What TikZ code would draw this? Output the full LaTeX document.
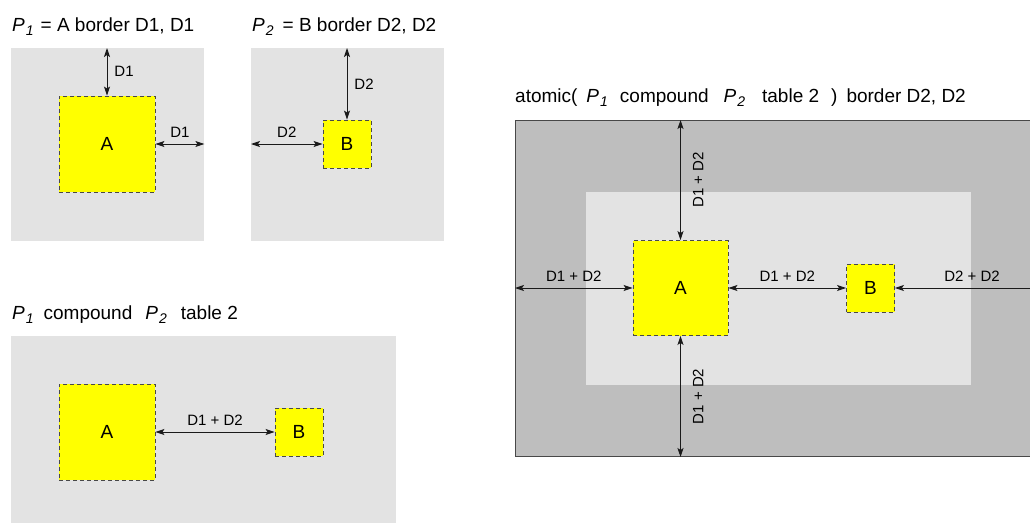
\documentclass[tikz,border=0pt]{standalone}
\usepackage{fontspec}
\setmainfont{Liberation Sans}
\usetikzlibrary{arrows.meta,positioning}
\definecolor{panelgray}{HTML}{E3E3E3}
\definecolor{outergray}{HTML}{BEBEBE}
\definecolor{boxyellow}{HTML}{FFFF00}
\definecolor{ink}{HTML}{1A1A1A}
\tikzset{
  panel/.style={fill=panelgray,draw=none,inner sep=0pt,anchor=north west},
  cell/.style={draw=ink!80,dash pattern=on 4pt off 3pt,line width=0.9pt,fill=boxyellow,
    inner sep=0pt,font=\fontsize{19}{21}\selectfont},
  dim/.style={{Stealth[length=9pt,width=6pt,inset=2pt]}-{Stealth[length=9pt,width=6pt,inset=2pt]},
    line width=0.9pt,draw=ink},
  lbl/.style={font=\fontsize{15}{17}\selectfont,inner sep=2pt},
  title/.style={anchor=base west,inner sep=0pt,font=\fontsize{19}{21}\selectfont}
}
\newcommand{\pn}[1]{\textit{P}\hspace{1pt}\raisebox{-4.5pt}{\fontsize{14}{14}\selectfont\textit{#1}}}

\begin{document}
\begin{tikzpicture}[x=1pt,y=-1pt]
 \clip (0,0) rectangle (1030,522);
 % titles
 \node[title] (t1) at (12,31) {\pn{1}\hspace{7pt}= A border D1, D1};
 \node[title] (t2) at (252,31) {\pn{2}\hspace{9pt}= B border D2, D2};
 \node[title] (t3) at (12,319) {\pn{1}\hspace{10pt}compound\hspace{13pt}\pn{2}\hspace{14pt}table 2};
 \node[title] (t4) at (515,102) {atomic(\hspace{9pt}\pn{1}\hspace{12pt}compound\hspace{15pt}\pn{2}\hspace{17pt}table 2\hspace{12pt})\hspace{9pt}border D2, D2};
 % P1 = A border D1, D1
 \node[panel,minimum width=193pt,minimum height=193pt] (p1) at (11,48) {};
 \node[cell,minimum size=96pt] (a1) at (107,144) {A};
 \draw[dim] (a1.north) -- (a1.north |- p1.north) node[midway,right=5pt,lbl] {D1};
 \draw[dim] (a1.east) -- (a1.east -| p1.east) node[midway,above=4pt,lbl] {D1};
 % P2 = B border D2, D2
 \node[panel,minimum width=193pt,minimum height=193pt] (p2) at (251,48) {};
 \node[cell,minimum size=48pt] (b1) at (347,144) {B};
 \draw[dim] (b1.north) -- (b1.north |- p2.north) node[midway,right=5pt,lbl] {D2};
 \draw[dim] (b1.west) -- (b1.west -| p2.west) node[midway,above=4pt,lbl] {D2};
 % P1 compound P2
 \node[panel,minimum width=385pt,minimum height=200pt] (p3) at (11,336) {};
 \node[cell,minimum size=96pt] (a2) at (107,432) {A};
 \node[cell,minimum size=48pt] (b2) at (299,432) {B};
 \draw[dim] (a2.east) -- (b2.west) node[midway,above=4pt,lbl] {D1 + D2};
 % atomic(...) border D2, D2
 \node[panel,fill=outergray,draw=ink!80,line width=1pt,minimum width=533pt,minimum height=336pt] (outer) at (515,120) {};
 \node[panel,minimum width=385pt,minimum height=193pt] (inner) at (586,192) {};
 \node[cell,minimum size=95pt] (a3) at (680.5,288) {A};
 \node[cell,minimum size=48pt] (b3) at (870.5,288) {B};
 \draw[dim] (a3.north) -- (a3.north |- outer.north) node[midway,xshift=10pt,rotate=90,anchor=north,lbl] {D1 + D2};
 \draw[dim] (a3.south) -- (a3.south |- outer.south) node[midway,xshift=10pt,rotate=90,anchor=north,lbl] {D1 + D2};
 \draw[dim] (a3.west) -- (a3.west -| outer.west) node[midway,above=4pt,lbl] {D1 + D2};
 \draw[dim] (a3.east) -- (b3.west) node[midway,above=4pt,lbl] {D1 + D2};
 \draw[dim] (b3.east) -- (b3.east -| outer.east) node[midway,above=4pt,lbl] {D2 + D2};
\end{tikzpicture}
\end{document}
